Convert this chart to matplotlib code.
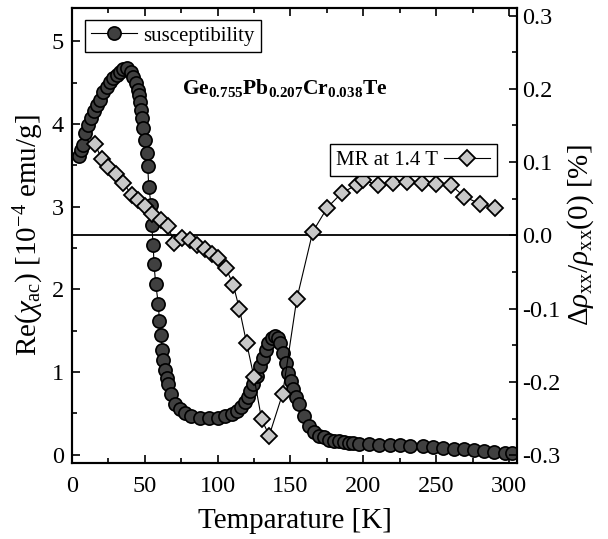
import matplotlib
matplotlib.use('Agg')
import matplotlib.pyplot as plt
from matplotlib.ticker import MultipleLocator, FormatStrFormatter

plt.rcParams['font.family'] = ['Liberation Serif', 'DejaVu Serif']
plt.rcParams['mathtext.fontset'] = 'custom'
plt.rcParams['mathtext.rm'] = 'Liberation Serif'
plt.rcParams['mathtext.it'] = 'Liberation Serif:italic'
plt.rcParams['mathtext.bf'] = 'Liberation Serif:bold'

# susceptibility (left axis, 10^-4 emu/g)
chi_T = [4.8, 6.2, 7.3, 8.9, 11.2, 13.0, 15.0, 17.0, 19.2, 21.5, 23.8, 26.0, 28.3, 30.7,
         33.0, 35.0, 37.8, 40.3, 42.0, 43.7, 45.0, 46.0, 46.7, 47.4, 48.3, 49.0, 50.1,
         51.3, 52.0, 52.7, 54.3, 54.7, 55.8, 56.3, 57.5, 59.3, 60.0, 61.0, 62.0, 62.7,
         63.9, 65.0, 66.0, 67.8, 70.7, 74.0, 77.6, 82.0, 88.0, 94.0, 100.5, 105.0, 109.7,
         113.0, 116.0, 118.5, 120.5, 122.0, 124.5, 126.8, 129.0, 131.4, 133.2, 134.8,
         137.0, 139.4, 141.7, 142.9, 144.7, 146.8, 148.6, 150.2, 152.0, 153.8, 155.9,
         159.3, 162.8, 166.2, 169.6, 173.0, 176.5, 180.0, 183.4, 186.8, 190.0, 193.0,
         197.0, 204.0, 211.0, 218.0, 225.0, 232.0, 241.0, 248.0, 255.0, 262.0, 269.0,
         276.0, 283.0, 290.0, 297.0, 302.4]
chi = [3.61, 3.69, 3.75, 3.89, 3.99, 4.07, 4.15, 4.23, 4.29, 4.39, 4.45, 4.51, 4.55, 4.59,
       4.63, 4.66, 4.67, 4.63, 4.57, 4.49, 4.41, 4.35, 4.27, 4.17, 4.07, 3.95, 3.81,
       3.65, 3.49, 3.24, 3.02, 2.78, 2.53, 2.30, 2.06, 1.82, 1.62, 1.45, 1.27, 1.15,
       1.03, 0.93, 0.85, 0.73, 0.61, 0.55, 0.50, 0.47, 0.45, 0.45, 0.45, 0.47, 0.49,
       0.53, 0.58, 0.64, 0.70, 0.77, 0.85, 0.95, 1.07, 1.17, 1.27, 1.35,
       1.41, 1.43, 1.41, 1.35, 1.23, 1.11, 0.99, 0.89, 0.79, 0.70, 0.61,
       0.47, 0.35, 0.27, 0.23, 0.21, 0.18, 0.17, 0.16, 0.15, 0.14, 0.14,
       0.13, 0.125, 0.12, 0.12, 0.115, 0.11, 0.10, 0.095, 0.085, 0.07, 0.064,
       0.055, 0.045, 0.036, 0.025, 0.024]

# magnetoresistance at 1.4 T (right axis, %)
mr_T = [15.8, 20.4, 24.9, 30.2, 35.2, 41.0, 45.5, 50.0, 55.0, 61.0, 66.1, 70.0, 75.3,
        81.0, 86.0, 91.3, 95.9, 100.5, 105.8, 110.8, 114.9, 119.9, 124.9, 130.2, 135.4,
        144.6, 154.3, 165.3, 175.3, 185.2, 195.5, 200.0, 210.4, 220.3, 229.9, 240.2,
        250.0, 260.1, 269.2, 280.2, 290.5]
mr = [0.125, 0.104, 0.094, 0.084, 0.072, 0.055, 0.048, 0.040, 0.029, 0.021, 0.013, -0.011,
      -0.003, -0.006, -0.013, -0.019, -0.025, -0.031, -0.045, -0.068, -0.100, -0.147,
      -0.193, -0.251, -0.273, -0.216, -0.087, 0.005, 0.038, 0.058, 0.069, 0.075, 0.069,
      0.072, 0.073, 0.072, 0.070, 0.069, 0.053, 0.043, 0.038]

fig = plt.figure(figsize=(6.08, 5.39), dpi=100)
ax = fig.add_axes([0.1184, 0.141, 0.7319, 0.844])
ax2 = ax.twinx()

l1, = ax.plot(chi_T, chi, '-', color='black', lw=0.8, marker='o', ms=9.5,
              mfc='#404040', mec='black', mew=1.2, label='susceptibility')
ax2.axhline(0, color='black', lw=1.3)
l2, = ax2.plot(mr_T, mr, '-', color='black', lw=0.8, marker='D', ms=8,
               mfc='#c8c8c8', mec='black', mew=1.3, label='MR at 1.4 T')

ax.set_xlim(0, 305.5)
ax.set_ylim(-0.1, 5.4)
ax2.set_ylim(-0.3105, 0.3102)

ax.xaxis.set_major_locator(MultipleLocator(50))
ax.xaxis.set_minor_locator(MultipleLocator(25))
ax.yaxis.set_major_locator(MultipleLocator(1))
ax.yaxis.set_minor_locator(MultipleLocator(0.5))
ax2.yaxis.set_major_locator(MultipleLocator(0.1))
ax2.yaxis.set_minor_locator(MultipleLocator(0.05))
ax2.yaxis.set_major_formatter(FormatStrFormatter('%.1f'))

for a in (ax, ax2):
    for s in a.spines.values():
        s.set_linewidth(1.5)
ax.tick_params(which='both', direction='in', top=True, right=False, width=1.2, labelsize=17.5)
ax.tick_params(which='major', length=6)
ax.tick_params(which='minor', length=3.5)
ax.tick_params(axis='x', which='both', pad=9)
ax.tick_params(axis='y', which='both', pad=6)
ax2.tick_params(which='both', direction='in', width=1.2, labelsize=17.5)
ax2.tick_params(which='major', length=6)
ax2.tick_params(which='minor', length=3.5)

ax.set_xlabel('Temparature [K]', fontsize=21, labelpad=8)
ax.set_ylabel(r'Re($\chi_{\rm ac}$) [10$^{-4}$ emu/g]', fontsize=21, labelpad=4)
ax2.set_ylabel(r'$\Delta\rho_{\rm xx}/\rho_{\rm xx}$(0) [%]', fontsize=21, labelpad=4)

ax.text(0.479, 0.824, r'$\mathbf{Ge_{0.755}Pb_{0.207}Cr_{0.038}Te}$', transform=ax.transAxes,
        fontsize=15.5, ha='center', va='center')

leg1 = ax.legend(handles=[l1], loc='upper left', bbox_to_anchor=(0.029, 0.974),
                 borderaxespad=0, fancybox=False, edgecolor='black', fontsize=15,
                 handlelength=2.2, borderpad=0.3, handletextpad=0.3, framealpha=1)
leg1.get_frame().set_linewidth(1.0)
leg2 = ax2.legend(handles=[l2], loc='upper right', bbox_to_anchor=(0.954, 0.701),
                  borderaxespad=0, fancybox=False, edgecolor='black', fontsize=15,
                  handlelength=2.2, borderpad=0.3, handletextpad=0.3, framealpha=1,
                  markerfirst=False)
leg2.get_frame().set_linewidth(1.0)

fig.savefig('out.png', dpi=100)
